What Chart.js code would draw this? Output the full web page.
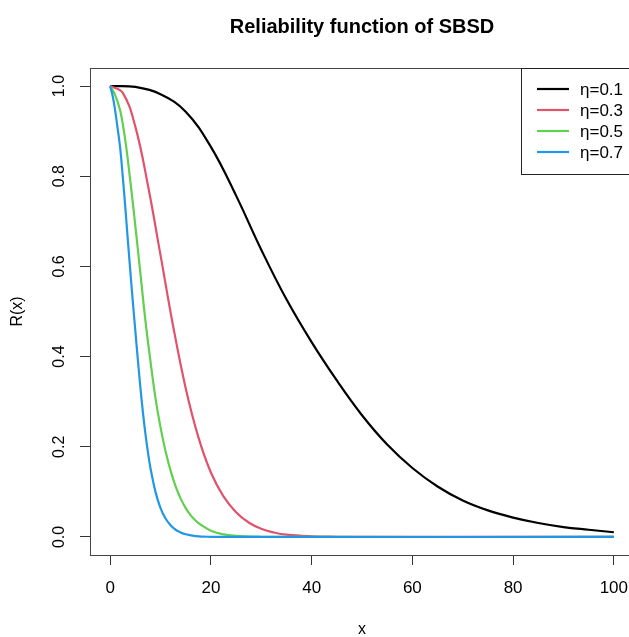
<!DOCTYPE html>
<html>
<head>
<meta charset="utf-8">
<script src="https://cdn.jsdelivr.net/npm/chart.js@4"></script>
<style>
  html, body { margin: 0; padding: 0; overflow: hidden; background: #fff; }
  #wrap { position: absolute; left: 0; top: 0; width: 660px; height: 637px; }
</style>
</head>
<body>
<div id="wrap"><canvas id="chart"></canvas></div>
<script>
/* ---------- data ---------- */
const xTicks = [0, 20, 40, 60, 80, 100];
const yTicks = [0, 0.2, 0.4, 0.6, 0.8, 1.0];
const yTickLabels = ['0.0', '0.2', '0.4', '0.6', '0.8', '1.0'];

const seriesNames = ['η=0.1', 'η=0.3', 'η=0.5', 'η=0.7'];
const seriesColors = ['#000000', '#DF536B', '#61D04F', '#2297E6'];

// eta = 0.1
const x01 = [0, 5, 10, 15, 20, 25, 30, 35, 40, 45, 50, 55, 60, 65, 70, 75, 80, 85, 90, 95, 100];
const r01 = [1.0, 0.998, 0.982, 0.943, 0.865, 0.757, 0.637, 0.527, 0.432, 0.347, 0.27, 0.205, 0.153, 0.112, 0.081, 0.059, 0.043, 0.031, 0.022, 0.016, 0.0104];
// eta = 0.3
const x03 = [0, 2.5, 5, 7.5, 10, 12.5, 15, 17.5, 20, 22.5, 25, 27.5, 30, 32.5, 35, 40, 45, 50, 100];
const r03 = [1.0, 0.985, 0.91, 0.78, 0.625, 0.468, 0.33, 0.222, 0.143, 0.09, 0.055, 0.032, 0.018, 0.01, 0.005, 0.0015, 0.0004, 0.0001, 0];
// eta = 0.5
const x05 = [0, 1, 2, 3, 4, 5, 6, 7, 8, 9, 10, 11, 12, 13, 14, 15, 16, 17, 18, 20, 22, 25, 30, 40, 100];
const r05 = [1.0, 0.98, 0.945, 0.88, 0.79, 0.69, 0.585, 0.48, 0.39, 0.308, 0.243, 0.19, 0.147, 0.112, 0.085, 0.064, 0.048, 0.036, 0.027, 0.014, 0.007, 0.0025, 0.0005, 0, 0];
// eta = 0.7
const x07 = [0, 0.5, 1, 1.5, 2, 2.5, 3, 3.5, 4, 4.5, 5, 5.5, 6, 6.5, 7, 7.5, 8, 9, 10, 11, 12, 13, 14, 15, 17, 20, 25, 100];
const r07 = [1.0, 0.978, 0.945, 0.905, 0.862, 0.80, 0.732, 0.66, 0.59, 0.522, 0.457, 0.393, 0.332, 0.277, 0.229, 0.188, 0.153, 0.1, 0.064, 0.041, 0.026, 0.016, 0.01, 0.006, 0.002, 0.0004, 0, 0];

const xs = [x01, x03, x05, x07];
const rs = [r01, r03, r05, r07];

const FONT = '"Liberation Sans", Arial, sans-serif';

/* ---------- helpers ---------- */
const toPoints = (x, r) => x.map((v, i) => ({ x: v, y: r[i] }));

/* ---------- R-like frame, titles, y labels, legend ---------- */
const rFrame = {
  id: 'rFrame',
  beforeDraw(chart) {
    const ctx = chart.ctx;
    ctx.save();
    ctx.fillStyle = '#fff';
    ctx.fillRect(0, 0, chart.width, chart.height);
    ctx.restore();
  },
  afterDraw(chart) {
    const ctx = chart.ctx;
    const a = chart.chartArea;
    const ys = chart.scales.y;
    ctx.save();

    // box
    ctx.strokeStyle = '#444';
    ctx.lineWidth = 1;
    ctx.strokeRect(Math.round(a.left) + 0.5, Math.round(a.top) + 0.5,
                   Math.round(a.right - a.left), Math.round(a.bottom - a.top));

    // title
    const cx = (a.left + a.right) / 2;
    ctx.fillStyle = '#000';
    ctx.textAlign = 'center';
    ctx.textBaseline = 'middle';
    ctx.font = 'bold 20px ' + FONT;
    ctx.fillText('Reliability function of SBSD', cx, 27);

    // x axis title
    ctx.font = '16px ' + FONT;
    ctx.fillText('x', cx, 630);

    // y tick labels (rotated, like R's las=0)
    yTicks.forEach((v, i) => {
      const py = ys.getPixelForValue(v);
      ctx.save();
      ctx.translate(60, py);
      ctx.rotate(-Math.PI / 2);
      ctx.font = '16px ' + FONT;
      ctx.fillText(yTickLabels[i], 0, 0);
      ctx.restore();
    });

    // y axis title
    ctx.save();
    ctx.translate(18, (a.top + a.bottom) / 2);
    ctx.rotate(-Math.PI / 2);
    ctx.font = '16px ' + FONT;
    ctx.fillText('R(x)', 0, 0);
    ctx.restore();

    // legend
    const lx = 521, ly = Math.round(a.top);
    ctx.fillStyle = '#fff';
    ctx.fillRect(lx, ly, a.right - lx, 174 - ly);
    ctx.strokeStyle = '#222';
    ctx.strokeRect(lx + 0.5, ly + 0.5, a.right - lx, 174 - ly);
    ctx.textAlign = 'left';
    ctx.font = '17px ' + FONT;
    seriesNames.forEach((name, i) => {
      const rowY = 89 + i * 21;
      ctx.strokeStyle = seriesColors[i];
      ctx.lineWidth = 2.2;
      ctx.beginPath();
      ctx.moveTo(537, rowY);
      ctx.lineTo(569, rowY);
      ctx.stroke();
      ctx.fillStyle = '#000';
      ctx.fillText(name, 580, rowY + 1);
    });

    ctx.restore();
  }
};

/* ---------- chart ---------- */
const datasets = seriesNames.map((name, i) => ({
  label: name,
  data: toPoints(xs[i], rs[i]),
  borderColor: seriesColors[i],
  borderWidth: 2.2,
  pointRadius: 0,
  fill: false,
  tension: 0.4,
  order: 4 - i            // blue on top, as in the picture
}));

new Chart(document.getElementById('chart'), {
  type: 'line',
  data: { datasets },
  plugins: [rFrame],
  options: {
    responsive: true,
    maintainAspectRatio: false,
    animation: false,
    events: [],
    layout: { padding: { left: 0, right: 26, top: 68, bottom: 0 } },
    plugins: {
      legend: { display: false },
      title: { display: false },
      tooltip: { enabled: false }
    },
    scales: {
      x: {
        type: 'linear',
        min: -4,
        max: 104,
        afterBuildTicks: (s) => { s.ticks = xTicks.map(v => ({ value: v })); },
        afterFit: (s) => { s.height = 82; },
        grid: { drawOnChartArea: false, tickLength: 10, tickColor: '#333', tickWidth: 1 },
        border: { display: false },
        ticks: {
          color: '#000',
          padding: 13,
          maxRotation: 0,
          font: { family: FONT, size: 17 },
          callback: (v) => String(v)
        }
      },
      y: {
        type: 'linear',
        min: -0.04,
        max: 1.04,
        afterBuildTicks: (s) => { s.ticks = yTicks.map(v => ({ value: v })); },
        afterFit: (s) => { s.width = 90; },
        grid: { drawOnChartArea: false, tickLength: 10, tickColor: '#333', tickWidth: 1 },
        border: { display: false },
        ticks: { display: false }
      }
    }
  }
});
</script>
</body>
</html>
